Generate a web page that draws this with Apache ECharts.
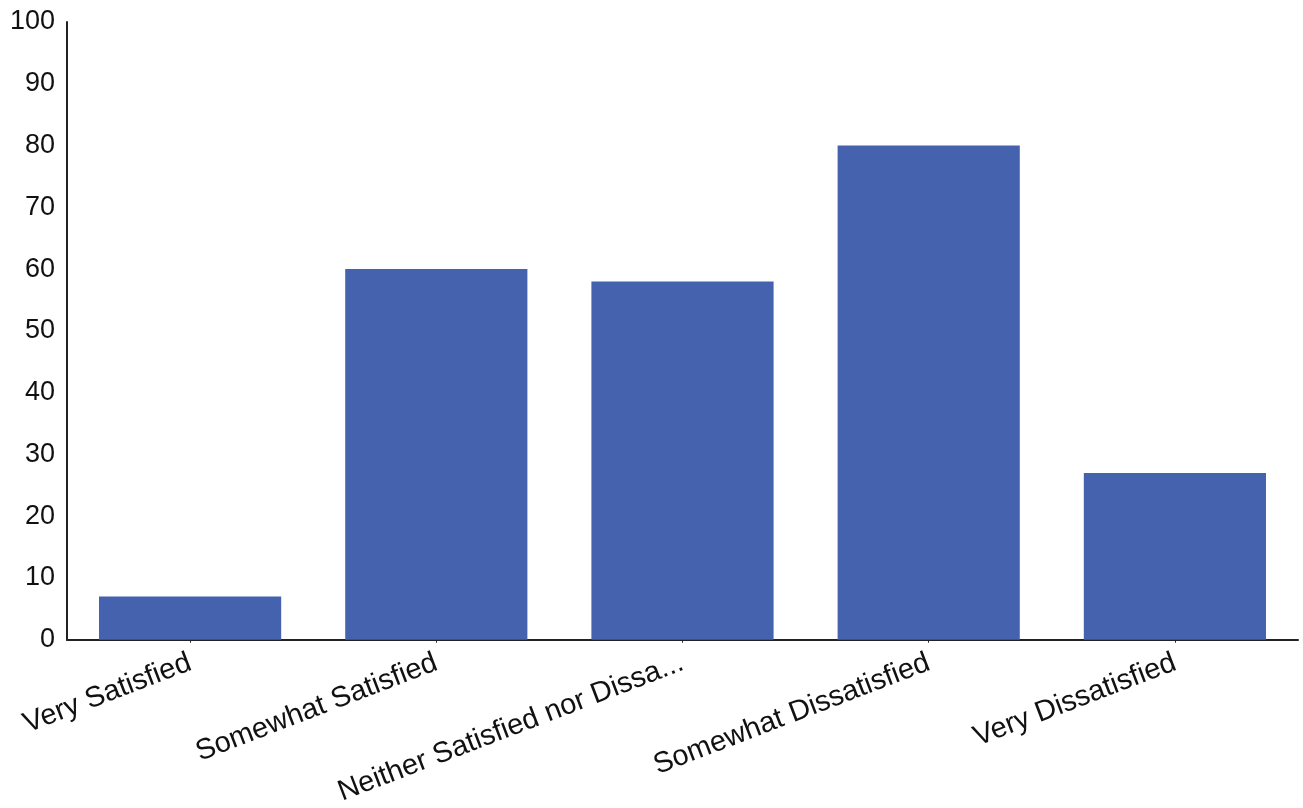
<!DOCTYPE html>
<html>
<head>
<meta charset="utf-8">
<script src="https://cdn.jsdelivr.net/npm/echarts@6/dist/echarts.min.js"></script>
<style>
html,body{margin:0;padding:0;background:#fff;}
#chart{width:1303px;height:808px;}
</style>
</head>
<body>
<div id="chart"></div>
<script>
const categories = ["Very Satisfied", "Somewhat Satisfied", "Neither Satisfied nor Dissa...", "Somewhat Dissatisfied", "Very Dissatisfied"];
const values = [7, 60, 58, 80, 27];
const yTicks = [0, 10, 20, 30, 40, 50, 60, 70, 80, 90, 100];

const chart = echarts.init(document.getElementById('chart'));
chart.setOption({
  animation: false,
  grid: { left: 67, right: 5, top: 22, bottom: 168 },
  xAxis: {
    type: 'category',
    data: categories,
    axisLine: { lineStyle: { color: '#222', width: 2 } },
    axisTick: { show: true, alignWithLabel: true, length: 3, lineStyle: { color: '#222' } },
    axisLabel: {
      rotate: 21,
      interval: 0,
      margin: 22,
      fontFamily: 'Liberation Sans, Arial, sans-serif',
      fontSize: 29,
      color: '#111'
    }
  },
  yAxis: {
    type: 'value',
    min: yTicks[0],
    max: yTicks[yTicks.length - 1],
    interval: 10,
    axisLine: { show: true, lineStyle: { color: '#222', width: 2 } },
    axisTick: { show: false },
    splitLine: { show: false },
    axisLabel: {
      margin: 12,
      fontFamily: 'Liberation Sans, Arial, sans-serif',
      fontSize: 27,
      color: '#111'
    }
  },
  series: [{
    type: 'bar',
    data: values,
    barCategoryGap: '26%',
    itemStyle: { color: '#4462AE' }
  }]
});
</script>
</body>
</html>
